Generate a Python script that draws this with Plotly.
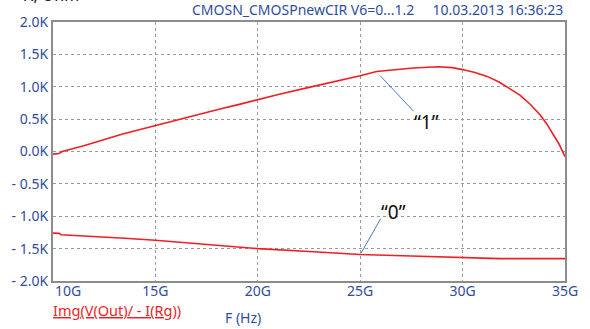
import plotly.graph_objects as go

# Frequency sweep, GHz
freq_on = [10.0, 10.3, 10.45, 11.5, 13.4, 14.0, 15.0, 16.1, 17.1, 18.2, 19.0, 20.0,
           21.0, 22.5, 23.5, 24.3, 25.0, 25.8, 26.5, 27.6, 28.8, 29.5, 30.0, 30.6,
           31.2, 31.8, 32.2, 32.8, 33.3, 33.8, 34.1, 34.4, 34.7, 35.0]
# Im(Z), Ohm, input state "1"
imz_on = [-40, -30, 0, 90, 270, 320, 400, 490, 570, 660, 720, 805,
          880, 990, 1060, 1110, 1170, 1235, 1260, 1290, 1310, 1295, 1265, 1220,
          1160, 1070, 990, 870, 730, 560, 430, 280, 120, -80]

freq_off = [10.0, 10.3, 10.4, 12.0, 13.5, 15.0, 17.8, 20.0, 22.5, 25.0, 27.5, 30.0, 31.8, 35.0]
# Im(Z), Ohm, input state "0"
imz_off = [-1260, -1265, -1285, -1310, -1340, -1370, -1440, -1500, -1545, -1590, -1615,
           -1635, -1655, -1655]

# first x label is drawn left-aligned at the axis start, the rest centred on their ticks
x_ticks = [10, 15, 20, 25, 30, 35]
x_labels = ["10G", "15G", "20G", "25G", "30G", "35G"]
y_ticks = [2000, 1500, 1000, 500, 0, -500, -1000, -1500, -2000]
y_labels = ["2.0K", "1.5K", "1.0K", "0.5K", "0.0K", "- 0.5K", "- 1.0K", "- 1.5K", "- 2.0K"]

# Callout labels: (text, text pos, leader start on curve, leader end)
callouts = [
    ("\u201c1\u201d", (28.24, 461), (25.97, 1172), (27.61, 622)),
    ("\u201c0\u201d", (26.63, -936), (25.03, -1576), (26.0, -1037)),
]

BLUE = "#2F4D9E"
RED = "#F01E24"
FONT = "Noto Sans"

fig = go.Figure()
fig.add_trace(go.Scatter(x=freq_on, y=imz_on, mode="lines",
                         line=dict(color=RED, width=1.6), showlegend=False))
fig.add_trace(go.Scatter(x=freq_off, y=imz_off, mode="lines",
                         line=dict(color=RED, width=1.6), showlegend=False))

for text, (tx, ty), (x0, y0), (x1, y1) in callouts:
    fig.add_shape(type="line", x0=x0, y0=y0, x1=x1, y1=y1, xref="x", yref="y",
                  line=dict(color="#4A7CC0", width=1))
    fig.add_annotation(x=tx, y=ty, xref="x", yref="y", text=text, showarrow=False,
                       font=dict(family=FONT, size=19, color="#111111"))

tick_font = dict(family=FONT, size=14, color=BLUE)
axis_common = dict(showgrid=True, gridcolor="#9a9a9a", griddash="dot", gridwidth=1,
                   showline=True, mirror=True, linecolor="#8c8c8c", linewidth=2,
                   zeroline=False, ticks="", tickfont=tick_font)

fig.update_layout(
    width=590, height=329,
    margin=dict(l=51, r=25, t=14, b=48),
    paper_bgcolor="white", plot_bgcolor="white",
    xaxis=dict(range=[10, 35], tickmode="array", tickvals=x_ticks,
               ticktext=[""] + x_labels[1:], ticklabelstandoff=-4, **axis_common),
    yaxis=dict(range=[-2000, 2000], tickmode="array", tickvals=y_ticks, ticktext=y_labels,
               **axis_common),
)

fig.add_annotation(x=x_ticks[0], y=0, xref="x", yref="paper", xanchor="left", yanchor="top",
                   xshift=1, yshift=1, borderpad=0, showarrow=False, text=x_labels[0],
                   font=tick_font)

# Header, axis captions
fig.add_annotation(xref="paper", yref="paper", x=1, y=1, xanchor="right", yanchor="bottom",
                   yshift=1, showarrow=False,
                   text="CMOSN_CMOSPnewCIR V6=0...1.2\u00a0\u00a0\u00a0\u00a0\u00a010.03.2013 16:36:23",
                   font=dict(family=FONT, size=14, color=BLUE))
fig.add_annotation(xref="paper", yref="paper", x=-0.06, y=1, xanchor="left", yanchor="bottom",
                   yshift=14, showarrow=False, text="X, Ohm",
                   font=dict(family=FONT, size=16, color="#111111"))
fig.add_annotation(xref="paper", yref="paper", x=0, y=0, xanchor="left", yanchor="middle",
                   yshift=-29, xshift=-1, borderpad=0, showarrow=False,
                   text="<u>Img(V(Out)/ - I(Rg))</u>",
                   font=dict(family=FONT, size=14.5, color=RED))
fig.add_annotation(xref="paper", yref="paper", x=0.3716, y=0, xanchor="center", yanchor="bottom",
                   yshift=-48, showarrow=False, text="F (Hz)",
                   font=dict(family=FONT, size=14, color=BLUE))

fig.write_html("out.html")
